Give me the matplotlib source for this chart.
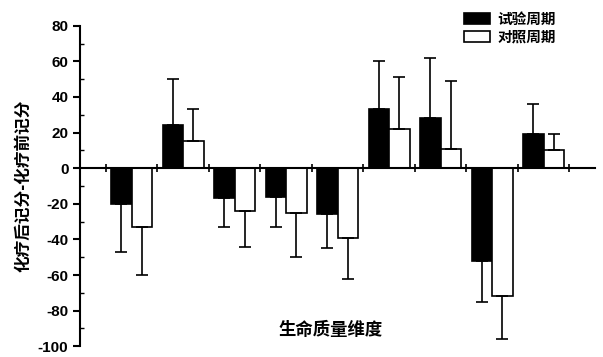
import numpy as np
import matplotlib.pyplot as plt
from matplotlib.ticker import MultipleLocator

plt.rcParams['font.family'] = ['Liberation Sans', 'Noto Sans CJK SC', 'DejaVu Sans']
plt.rcParams['axes.unicode_minus'] = False

test_vals = [-20, 24, -17, -16, -26, 33, 28, -52, 19]
test_err = [27, 26, 16, 17, 19, 27, 34, 23, 17]
ctrl_vals = [-33, 15, -24, -25, -39, 22, 11, -72, 10]
ctrl_err = [27, 18, 20, 25, 23, 29, 38, 24, 9]
labels = ["试验周期", "对照周期"]

x = np.arange(1, len(test_vals) + 1)
w = 0.4

fig = plt.figure(figsize=(6.03, 3.57), dpi=100)
ax = fig.add_axes([0.133, 0.03, 0.854, 0.898])

ax.bar(x - w / 2, test_vals, w, color="black", edgecolor="black", linewidth=1.2, label=labels[0])
ax.bar(x + w / 2, ctrl_vals, w, color="white", edgecolor="black", linewidth=1.2, label=labels[1])

# one-sided error bars (away from zero)
def one_side(vals, errs):
    lo = [e if v < 0 else 0 for v, e in zip(vals, errs)]
    hi = [e if v >= 0 else 0 for v, e in zip(vals, errs)]
    return [lo, hi]

ax.errorbar(x - w / 2, test_vals, yerr=one_side(test_vals, test_err), fmt="none",
            ecolor="black", elinewidth=1.2, capsize=4, capthick=1.2)
ax.errorbar(x + w / 2, ctrl_vals, yerr=one_side(ctrl_vals, ctrl_err), fmt="none",
            ecolor="black", elinewidth=1.2, capsize=4, capthick=1.2)

ax.set_xlim(0, 10)
ax.set_ylim(-100, 80)
ax.yaxis.set_major_locator(MultipleLocator(20))
ax.yaxis.set_minor_locator(MultipleLocator(10))
ax.set_xticks(np.arange(0.5, 10, 1))
ax.set_xticklabels([])

ax.spines['top'].set_visible(False)
ax.spines['right'].set_visible(False)
ax.spines['bottom'].set_position(('data', 0))
ax.spines['left'].set_linewidth(1.5)
ax.spines['bottom'].set_linewidth(1.5)
ax.tick_params(axis='x', direction='inout', length=6, width=1.2)
ax.tick_params(axis='y', which='major', direction='out', length=5, width=1.5,
               labelsize=11)
ax.tick_params(axis='y', which='minor', direction='in', length=3, width=1)
for t in ax.get_yticklabels():
    t.set_fontweight('bold')

ax.set_ylabel("化疗后记分-化疗前记分", fontsize=12, fontweight='bold',
              family=['Noto Sans CJK SC', 'DejaVu Sans'], labelpad=4)
ax.text(4.87, -91, "生命质量维度", fontsize=12.5, fontweight='bold', ha='center',
        va='center', family=['Noto Sans CJK SC', 'DejaVu Sans'])

ax.legend(loc='upper right', bbox_to_anchor=(565 / 603, 1 - 2 / 357),
          bbox_transform=fig.transFigure, frameon=False,
          prop={'family': ['Noto Sans CJK SC', 'DejaVu Sans'], 'size': 10.5, 'weight': 'bold'},
          handlelength=1.8, handleheight=0.8, labelspacing=0.15, borderpad=0.1,
          handletextpad=0.5)

fig.savefig("out.png", dpi=100)
